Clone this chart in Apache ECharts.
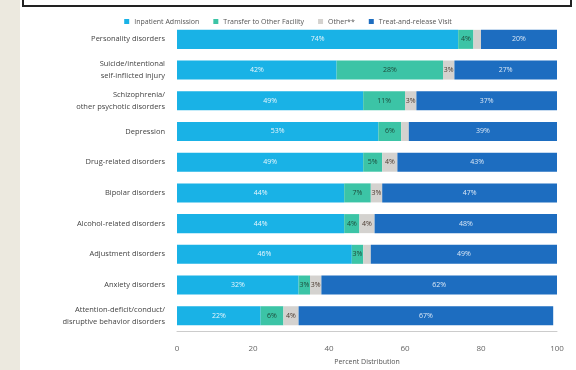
<!DOCTYPE html>
<html>
<head>
<meta charset="utf-8">
<script src="https://cdn.jsdelivr.net/npm/echarts@6/dist/echarts.min.js"></script>
<style>
  html, body { margin: 0; padding: 0; background: #fff; }
  #chart { width: 576px; height: 370px; }
</style>
</head>
<body>
<div id="chart"></div>
<script>
  const categories = [
    'Personality disorders',
    'Suicide/intentional\nself-inflicted injury',
    'Schizophrenia/\nother psychotic disorders',
    'Depression',
    'Drug-related disorders',
    'Bipolar disorders',
    'Alcohol-related disorders',
    'Adjustment disorders',
    'Anxiety disorders',
    'Attention-deficit/conduct/\ndisruptive behavior disorders'
  ];
  const inpatient = [74, 42, 49, 53, 49, 44, 44, 46, 32, 22];
  const transfer = [4, 28, 11, 6, 5, 7, 4, 3, 3, 6];
  const other = [2, 3, 3, 2, 4, 3, 4, 2, 3, 4];
  const treatRelease = [20, 27, 37, 39, 43, 47, 48, 49, 62, 67];
  const xTicks = [0, 20, 40, 60, 80, 100];

  const chart = echarts.init(document.getElementById('chart'));

  function seg(name, data, color, labelColor) {
    return {
      name: name,
      type: 'bar',
      stack: 'all',
      data: data,
      barWidth: '62%',
      itemStyle: { color: color },
      label: {
        show: true,
        position: 'inside',
        fontSize: 7,
        fontFamily: 'Open Sans',
        color: labelColor,
        formatter: p => (p.value < 3 ? '' : p.value + '%')
      }
    };
  }

  const option = {
    animation: false,
    textStyle: { fontFamily: 'Open Sans' },
    graphic: [
      { type: 'rect', shape: { x: 0, y: 0, width: 20, height: 370 }, style: { fill: '#ece9df' }, z: -1 },
      { type: 'rect', shape: { x: 23, y: -10, width: 548, height: 16 }, style: { fill: '#fff', stroke: '#222', lineWidth: 2 } }
    ],
    legend: {
      top: 13,
      left: 'center',
      icon: 'rect',
      itemWidth: 5,
      itemHeight: 5,
      itemGap: 14,
      textStyle: { fontSize: 7, color: '#555' },
      data: ['Inpatient Admission', 'Transfer to Other Facility', 'Other**', 'Treat-and-release Visit']
    },
    grid: { left: 177, right: 19, top: 24, bottom: 34 },
    xAxis: {
      type: 'value',
      min: 0,
      max: 100,
      interval: 20,
      name: 'Percent Distribution',
      nameLocation: 'middle',
      nameGap: 25,
      nameTextStyle: { fontSize: 7, color: '#555' },
      axisLabel: {
        fontSize: 8,
        color: '#666',
        margin: 14,
        formatter: v => (xTicks.includes(v) ? String(v) : '')
      },
      axisLine: { show: true, lineStyle: { color: '#ccc' } },
      axisTick: { show: false },
      splitLine: { show: false }
    },
    yAxis: {
      type: 'category',
      inverse: true,
      data: categories,
      axisLabel: { fontSize: 7.5, color: '#444', margin: 12, lineHeight: 12, align: 'right' },
      axisLine: { show: false },
      axisTick: { show: false }
    },
    series: [
      seg('Inpatient Admission', inpatient, '#19b2e6', '#e8f6fc'),
      seg('Transfer to Other Facility', transfer, '#3cc4a6', '#1d4a3a'),
      seg('Other**', other, '#d4d2cf', '#4a3a30'),
      seg('Treat-and-release Visit', treatRelease, '#1d6dc0', '#dbe8f6')
    ]
  };

  chart.setOption(option);
</script>
</body>
</html>
